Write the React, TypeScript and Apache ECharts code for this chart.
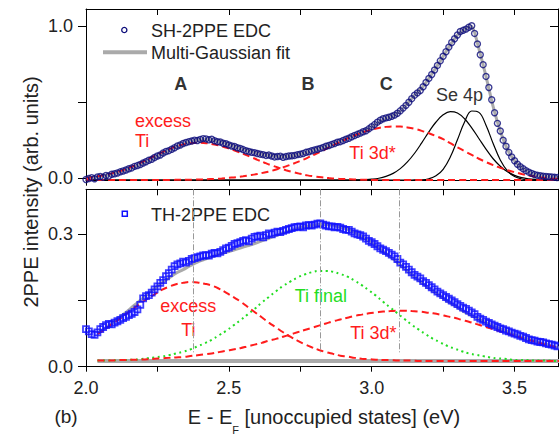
import React, { useEffect, useRef } from "react";
import * as echarts from "echarts";

// ---------- axes ----------
const X_MIN = 2.0;
const X_MAX = 3.652;
const X_TICKS = [2.0, 2.25, 2.5, 2.75, 3.0, 3.25, 3.5];
const X_LABELS = [2.0, 2.5, 3.0, 3.5];
const Y_TOP_MIN = -0.016;
const Y_TOP_MAX = 1.11;
const Y_TOP_TICKS = [0, 0.5, 1.0];
const Y_TOP_LABELS = [0, 1.0];
const Y_BOT_MIN = 0;
const Y_BOT_MAX = 0.402;
const Y_BOT_TICKS = [0, 0.15, 0.3];
const Y_BOT_LABELS = [0, 0.3];

// ---------- measured EDCs (energy grid: start + i*step) ----------
const EDC_START = 2.0;
const EDC_STEP = 0.01;
const SH_EDC = [
  -0.008, -0.002, 0.004, -0.003, 0.009, 0.012, 0.006, 0.018, 0.015, 0.026,
  0.03, 0.035, 0.042, 0.048, 0.054, 0.062, 0.068, 0.078, 0.083, 0.09,
  0.1, 0.108, 0.118, 0.124, 0.136, 0.146, 0.153, 0.166, 0.175, 0.181,
  0.19, 0.2, 0.212, 0.218, 0.228, 0.234, 0.24, 0.244, 0.25, 0.248,
  0.255, 0.26, 0.258, 0.252, 0.256, 0.246, 0.24, 0.238, 0.23, 0.226,
  0.218, 0.212, 0.208, 0.2, 0.195, 0.188, 0.18, 0.176, 0.17, 0.168,
  0.162, 0.158, 0.155, 0.15, 0.152, 0.146, 0.14, 0.143, 0.145, 0.138,
  0.142, 0.146, 0.148, 0.15, 0.155, 0.158, 0.162, 0.17, 0.174, 0.18,
  0.186, 0.19, 0.196, 0.202, 0.21, 0.215, 0.222, 0.228, 0.236, 0.24,
  0.248, 0.256, 0.262, 0.272, 0.28, 0.288, 0.296, 0.305, 0.312, 0.324,
  0.338, 0.352, 0.368, 0.38, 0.39, 0.396, 0.4, 0.406, 0.414, 0.426,
  0.442, 0.46, 0.478, 0.498, 0.522, 0.545, 0.56, 0.575, 0.6, 0.628,
  0.655, 0.68, 0.71, 0.74, 0.77, 0.8, 0.83, 0.86, 0.89, 0.915,
  0.94, 0.962, 0.97, 0.978, 0.99, 1.0, 0.95, 0.88, 0.81, 0.745,
  0.668, 0.595, 0.515, 0.43, 0.36, 0.31, 0.25, 0.21, 0.17, 0.14,
  0.115, 0.092, 0.075, 0.062, 0.05, 0.04, 0.032, 0.024, 0.019, 0.016,
  0.014, 0.012, 0.01, 0.008, 0.006, 0.005, 0.004,
];
const TH_EDC = [
  0.085, 0.08, 0.074, 0.072, 0.078, 0.085, 0.09, 0.094, 0.097, 0.096,
  0.1, 0.103, 0.106, 0.11, 0.113, 0.117, 0.12, 0.124, 0.13, 0.14,
  0.155, 0.16, 0.162, 0.168, 0.175, 0.182, 0.19, 0.196, 0.205, 0.212,
  0.22, 0.228, 0.232, 0.234, 0.238, 0.236, 0.24, 0.244, 0.246, 0.248,
  0.25, 0.252, 0.253, 0.252, 0.256, 0.258, 0.257, 0.26, 0.264, 0.268,
  0.27, 0.274, 0.278, 0.28, 0.282, 0.285, 0.287, 0.284, 0.29, 0.294,
  0.295, 0.297, 0.293, 0.298, 0.302, 0.3, 0.304, 0.306, 0.305, 0.308,
  0.31, 0.312, 0.314, 0.316, 0.317, 0.318, 0.316, 0.32, 0.321, 0.32,
  0.322, 0.324, 0.325, 0.322, 0.32, 0.318, 0.318, 0.316, 0.317, 0.315,
  0.312, 0.31, 0.31, 0.306, 0.302, 0.3, 0.298, 0.295, 0.29, 0.285,
  0.282, 0.278, 0.273, 0.268, 0.265, 0.262, 0.258, 0.254, 0.25, 0.244,
  0.236, 0.232, 0.226, 0.22, 0.214, 0.208, 0.204, 0.2, 0.194, 0.19,
  0.185, 0.18, 0.175, 0.17, 0.166, 0.162, 0.158, 0.154, 0.15, 0.146,
  0.142, 0.138, 0.134, 0.131, 0.127, 0.123, 0.119, 0.113, 0.109, 0.106,
  0.102, 0.099, 0.096, 0.093, 0.09, 0.087, 0.085, 0.082, 0.08, 0.077,
  0.075, 0.073, 0.07, 0.068, 0.065, 0.062, 0.06, 0.059, 0.057, 0.056,
  0.055, 0.053, 0.051, 0.05, 0.048, 0.046, 0.045,
];

// ---------- top panel: fit components (grid: start + i*step) ----------
const TOP_FIT_START = 2.0;
const FIT_STEP = 0.025;
const TOP_BASE = -0.012;
const FIT_TOP = [
  -0.005, 0.003, 0.012, 0.02, 0.032, 0.046, 0.062, 0.08, 0.1, 0.122,
  0.146, 0.17, 0.192, 0.214, 0.232, 0.245, 0.252, 0.254, 0.248, 0.236,
  0.221, 0.206, 0.19, 0.176, 0.164, 0.154, 0.147, 0.143, 0.143, 0.148,
  0.157, 0.17, 0.185, 0.2, 0.215, 0.232, 0.25, 0.27, 0.29, 0.312,
  0.338, 0.368, 0.394, 0.41, 0.442, 0.49, 0.545, 0.59, 0.655, 0.725,
  0.8, 0.875, 0.94, 0.975, 0.995, 0.85, 0.668, 0.47, 0.31, 0.19,
  0.115, 0.068, 0.04, 0.022, 0.014, 0.009, 0.005,
];
const EXCESS_TI_TOP = [
  0.014, 0.02, 0.028, 0.037, 0.049, 0.063, 0.08, 0.1, 0.122, 0.145,
  0.168, 0.19, 0.21, 0.226, 0.238, 0.243, 0.245, 0.241, 0.233, 0.222,
  0.207, 0.19, 0.172, 0.153, 0.133, 0.114, 0.096, 0.08, 0.065, 0.052,
  0.041, 0.031, 0.024, 0.018, 0.013, 0.009, 0.007, 0.005, 0.003, 0.002,
  0.001, 0, 0, 0, 0, 0, 0, 0, 0, 0,
  0, 0, 0, 0, 0, 0, 0, 0, 0, 0,
  0, 0, 0, 0, 0, 0, 0,
];
const TI3D_TOP = [
  0, 0, 0, 0, 0, 0, 0, 0, 0, 0.001,
  0.001, 0.001, 0.001, 0.002, 0.002, 0.003, 0.004, 0.006, 0.008, 0.011,
  0.015, 0.019, 0.025, 0.032, 0.04, 0.05, 0.061, 0.075, 0.09, 0.107,
  0.126, 0.146, 0.168, 0.19, 0.214, 0.237, 0.259, 0.281, 0.3, 0.317,
  0.331, 0.342, 0.349, 0.352, 0.351, 0.345, 0.336, 0.323, 0.307, 0.289,
  0.268, 0.242, 0.215, 0.19, 0.165, 0.14, 0.118, 0.098, 0.08, 0.065,
  0.052, 0.04, 0.03, 0.022, 0.016, 0.011, 0.008,
];
const SE4P_A = [
  0, 0, 0, 0, 0, 0, 0, 0, 0, 0,
  0, 0, 0, 0, 0, 0, 0, 0, 0, 0,
  0, 0, 0, 0, 0, 0, 0, 0, 0, 0,
  0, 0, 0, 0, 0, 0, 0, 0, 0.001, 0.003,
  0.006, 0.012, 0.024, 0.044, 0.075, 0.119, 0.176, 0.244, 0.316, 0.381,
  0.428, 0.449, 0.44, 0.402, 0.343, 0.273, 0.203, 0.14, 0.091, 0.055,
  0.031, 0.016, 0.008, 0.004, 0.002, 0.001, 0,
];
const SE4P_B = [
  0, 0, 0, 0, 0, 0, 0, 0, 0, 0,
  0, 0, 0, 0, 0, 0, 0, 0, 0, 0,
  0, 0, 0, 0, 0, 0, 0, 0, 0, 0,
  0, 0, 0, 0, 0, 0, 0, 0, 0, 0,
  0, 0, 0, 0, 0, 0, 0.001, 0.002, 0.009, 0.028,
  0.071, 0.151, 0.264, 0.381, 0.453, 0.444, 0.36, 0.24, 0.132, 0.06,
  0.023, 0.007, 0.002, 0, 0, 0, 0,
];

// ---------- bottom panel: fit components ----------
const BOT_FIT_START = 2.04;
const BOT_BASE = 0.013;
const EXCESS_TI_BOT = [
  0.061, 0.071, 0.083, 0.094, 0.106, 0.118, 0.13, 0.141, 0.151, 0.161,
  0.168, 0.174, 0.177, 0.179, 0.178, 0.175, 0.171, 0.164, 0.155, 0.145,
  0.135, 0.123, 0.111, 0.099, 0.087, 0.076, 0.065, 0.055, 0.046, 0.038,
  0.031, 0.025, 0.02, 0.016, 0.012, 0.01, 0.007, 0.005, 0.004, 0.003,
  0.002, 0.002, 0.001, 0.001, 0.001, 0, 0, 0, 0, 0,
  0, 0, 0, 0, 0, 0, 0, 0, 0, 0,
  0, 0, 0, 0, 0, 0,
];
const TI_FINAL_BOT = [
  0.001, 0.001, 0.001, 0.002, 0.002, 0.003, 0.004, 0.006, 0.008, 0.01,
  0.013, 0.017, 0.021, 0.026, 0.033, 0.04, 0.048, 0.058, 0.068, 0.08,
  0.092, 0.105, 0.118, 0.132, 0.145, 0.158, 0.17, 0.18, 0.189, 0.196,
  0.201, 0.204, 0.204, 0.202, 0.197, 0.191, 0.182, 0.172, 0.16, 0.148,
  0.134, 0.121, 0.108, 0.095, 0.082, 0.071, 0.06, 0.05, 0.042, 0.034,
  0.028, 0.022, 0.017, 0.014, 0.011, 0.008, 0.006, 0.005, 0.003, 0.002,
  0.002, 0.001, 0.001, 0.001, 0, 0,
];
const TI3D_BOT = [
  0.001, 0.001, 0.001, 0.002, 0.002, 0.003, 0.003, 0.004, 0.005, 0.006,
  0.007, 0.008, 0.009, 0.011, 0.013, 0.015, 0.017, 0.02, 0.023, 0.026,
  0.029, 0.033, 0.037, 0.041, 0.046, 0.05, 0.055, 0.06, 0.065, 0.07,
  0.075, 0.08, 0.085, 0.09, 0.094, 0.098, 0.102, 0.105, 0.108, 0.11,
  0.112, 0.113, 0.114, 0.114, 0.113, 0.112, 0.11, 0.108, 0.105, 0.101,
  0.098, 0.093, 0.089, 0.084, 0.079, 0.074, 0.069, 0.064, 0.059, 0.054,
  0.049, 0.045, 0.04, 0.036, 0.032, 0.029,
];

// ---------- reference energies A, B, C ----------
const MARK_NAMES = ["A", "B", "C"];
const MARK_E = [2.375, 2.82, 3.098];
const MARK_TOP_SPAN = [0.627, -0.072];
const MARK_BOT_SPAN = [0.402, 0.028];

// ---------- style ----------
const FONT = "'Liberation Sans', Arial, Helvetica, sans-serif";
const TEXT = "#222";
const NAVY = "#0c0c7a";
const BLUE = "#1010ff";
const RED = "#ff1c1c";
const GREEN = "#22dd22";
const GRAY = "#aaaaaa";

function seq(start: number, step: number, values: number[], offset = 0): number[][] {
  return values.map((v, i) => [
    Math.round((start + i * step) * 10000) / 10000,
    Math.round((v + offset) * 100000) / 100000,
  ]);
}

const fmt1 = (v: number) => Number(v).toFixed(1);

function makeX(gridIndex: number, position: "top" | "bottom", inside: boolean, labels: boolean) {
  return {
    gridIndex,
    type: "value",
    min: X_MIN,
    max: X_MAX,
    position,
    axisLine: { show: true, onZero: false, lineStyle: { color: "#000", width: 1 } },
    axisTick: {
      show: true,
      inside,
      length: inside ? 6 : 5,
      customValues: X_TICKS,
      lineStyle: { color: "#000", width: 1 },
    },
    axisLabel: labels
      ? { show: true, customValues: X_LABELS, formatter: fmt1, fontSize: 18, color: TEXT, fontFamily: FONT, margin: 12 }
      : { show: false },
    splitLine: { show: false },
  };
}

function makeY(
  gridIndex: number,
  position: "left" | "right",
  min: number,
  max: number,
  ticks: number[],
  labels: number[] | null
) {
  const inside = position === "right";
  return {
    gridIndex,
    type: "value",
    min,
    max,
    position,
    axisLine: { show: true, onZero: false, lineStyle: { color: "#000", width: 1 } },
    axisTick: {
      show: true,
      inside,
      length: 8,
      customValues: ticks,
      lineStyle: { color: "#000", width: 1 },
    },
    axisLabel: labels
      ? { show: true, customValues: labels, formatter: fmt1, fontSize: 18, color: TEXT, fontFamily: FONT, margin: 13 }
      : { show: false },
    splitLine: { show: false },
  };
}

function curve(name: string, grid: number, data: number[][], color: string, width: number, type: any, z: number) {
  return {
    name,
    type: "line",
    xAxisIndex: grid * 2,
    yAxisIndex: grid * 2,
    data,
    smooth: 0.4,
    showSymbol: false,
    symbol: "none",
    lineStyle: { color, width, type },
    itemStyle: { color },
    z,
    silent: true,
  };
}

function markLines(span: number[]) {
  return {
    silent: true,
    symbol: ["none", "none"],
    label: { show: false },
    lineStyle: { color: "#999", width: 1, type: [6, 2, 1, 2] },
    data: MARK_E.map((e) => [{ coord: [e, span[0]] }, { coord: [e, span[1]] }]),
  };
}

function label(text: string, x: number, y: number, fill: string, align = "center", extra: any = {}) {
  return {
    type: "text",
    x,
    y,
    style: { text, fontSize: 18, fontFamily: FONT, fill, align, verticalAlign: "middle", ...extra },
  };
}

export default function App() {
  const ref = useRef<HTMLDivElement>(null);

  useEffect(() => {
    if (!ref.current) return;
    const chart = echarts.init(ref.current, null, { renderer: "svg" });

    const botFitSum = EXCESS_TI_BOT.map((v, i) => v + TI_FINAL_BOT[i] + TI3D_BOT[i]);
    const botBaseline = EXCESS_TI_BOT.map(() => 0);

    const dashed = [7, 4];

    const option: any = {
      animation: false,
      backgroundColor: "#fff",
      textStyle: { fontFamily: FONT },
      grid: [
        { left: 86, top: 9, width: 472, height: 171.7 },
        { left: 86, top: 189.3, width: 472, height: 177.4 },
      ],
      xAxis: [
        makeX(0, "bottom", false, false),
        makeX(0, "top", true, false),
        makeX(1, "bottom", false, true),
        makeX(1, "top", true, false),
      ],
      yAxis: [
        makeY(0, "left", Y_TOP_MIN, Y_TOP_MAX, Y_TOP_TICKS, Y_TOP_LABELS),
        makeY(0, "right", Y_TOP_MIN, Y_TOP_MAX, Y_TOP_TICKS, null),
        makeY(1, "left", Y_BOT_MIN, Y_BOT_MAX, Y_BOT_TICKS, Y_BOT_LABELS),
        makeY(1, "right", Y_BOT_MIN, Y_BOT_MAX, Y_BOT_TICKS, null),
      ],
      series: [
        // ---- top panel ----
        {
          ...curve("Multi-Gaussian fit", 0, seq(TOP_FIT_START, FIT_STEP, FIT_TOP), GRAY, 3, "solid", 1),
          smooth: 0.2,
          clip: false,
          markLine: markLines(MARK_TOP_SPAN),
        },
        curve("Se 4p a", 0, seq(TOP_FIT_START, FIT_STEP, SE4P_A, TOP_BASE), "#000", 1.2, "solid", 2),
        curve("Se 4p b", 0, seq(TOP_FIT_START, FIT_STEP, SE4P_B, TOP_BASE), "#000", 1.2, "solid", 2),
        curve("excess Ti (SH)", 0, seq(TOP_FIT_START, FIT_STEP, EXCESS_TI_TOP, TOP_BASE), RED, 2, dashed, 3),
        curve("Ti 3d* (SH)", 0, seq(TOP_FIT_START, FIT_STEP, TI3D_TOP, TOP_BASE), RED, 2, dashed, 3),
        {
          name: "SH-2PPE EDC",
          type: "scatter",
          xAxisIndex: 0,
          yAxisIndex: 0,
          data: seq(EDC_START, EDC_STEP, SH_EDC),
          symbol: "circle",
          symbolSize: 6,
          itemStyle: { color: "rgba(0,0,0,0)", borderColor: NAVY, borderWidth: 1.4 },
          z: 4,
          silent: true,
        },
        // ---- bottom panel ----
        {
          ...curve("Multi-Gaussian fit", 1, seq(BOT_FIT_START, FIT_STEP, botFitSum, BOT_BASE), GRAY, 3, "solid", 1),
          markLine: markLines(MARK_BOT_SPAN),
        },
        curve("background", 1, seq(BOT_FIT_START, FIT_STEP, botBaseline, BOT_BASE), GRAY, 4, "solid", 1),
        curve("Ti final", 1, seq(BOT_FIT_START, FIT_STEP, TI_FINAL_BOT, BOT_BASE), GREEN, 2, [2, 3.5], 3),
        curve("excess Ti (TH)", 1, seq(BOT_FIT_START, FIT_STEP, EXCESS_TI_BOT, BOT_BASE), RED, 2, dashed, 3),
        curve("Ti 3d* (TH)", 1, seq(BOT_FIT_START, FIT_STEP, TI3D_BOT, BOT_BASE), RED, 2, dashed, 3),
        {
          name: "TH-2PPE EDC",
          type: "scatter",
          xAxisIndex: 2,
          yAxisIndex: 2,
          data: seq(EDC_START, EDC_STEP, TH_EDC),
          symbol: "rect",
          symbolSize: 6,
          itemStyle: { color: "rgba(0,0,0,0)", borderColor: BLUE, borderWidth: 1.8 },
          z: 4,
          silent: true,
        },
      ],
      graphic: [
        // legends
        { type: "circle", shape: { cx: 124.3, cy: 30, r: 2.6 }, style: { fill: "none", stroke: NAVY, lineWidth: 1.3 } },
        label("SH-2PPE EDC", 151, 31, TEXT, "left"),
        { type: "line", shape: { x1: 103, y1: 52.3, x2: 147, y2: 52.3 }, style: { stroke: GRAY, lineWidth: 4 } },
        label("Multi-Gaussian fit", 151, 53, TEXT, "left"),
        { type: "rect", shape: { x: 122.3, y: 211.3, width: 5, height: 5 }, style: { fill: "none", stroke: BLUE, lineWidth: 1.5 } },
        label("TH-2PPE EDC", 151, 214.7, TEXT, "left"),
        // axis titles
        {
          type: "text",
          x: 31,
          y: 192,
          rotation: Math.PI / 2,
          style: {
            text: "2PPE intensity (arb. units)",
            fontSize: 20,
            fontFamily: FONT,
            fill: TEXT,
            align: "center",
            verticalAlign: "middle",
          },
        },
        {
          type: "text",
          x: 324,
          y: 406.5,
          style: {
            text: "{m|E - E}{s|F}{m| [unoccupied states] (eV)}",
            fontFamily: FONT,
            align: "center",
            verticalAlign: "top",
            rich: {
              m: { fontSize: 20, lineHeight: 28.5, verticalAlign: "top", fill: TEXT, fontFamily: FONT },
              s: { fontSize: 11, lineHeight: 8, verticalAlign: "bottom", fill: TEXT, fontFamily: FONT },
            },
          },
        },
        label("(b)", 66, 416.5, TEXT, "center", { fontSize: 19 }),
        // A, B, C
        ...MARK_NAMES.map((t, i) =>
          label(t, [180.8, 308, 386.3][i], 84, "#333", "center", { fontWeight: "bold" })
        ),
        // component annotations
        label("excess", 135, 120.5, RED, "left"),
        label("Ti", 135, 141, RED, "left"),
        label("Ti 3d*", 372.5, 153.3, RED),
        label("Se 4p", 459.5, 94.5, "#333"),
        label("excess", 188.3, 305.5, RED),
        label("Ti", 188.3, 330, RED),
        label("Ti final", 320.8, 296.3, GREEN),
        label("Ti 3d*", 373.3, 332.5, RED),
      ],
    };

    chart.setOption(option);
    return () => chart.dispose();
  }, []);

  return (
    <div
      ref={ref}
      style={{ position: "fixed", left: 0, top: 0, width: 559, height: 436, background: "#fff" }}
    />
  );
}
